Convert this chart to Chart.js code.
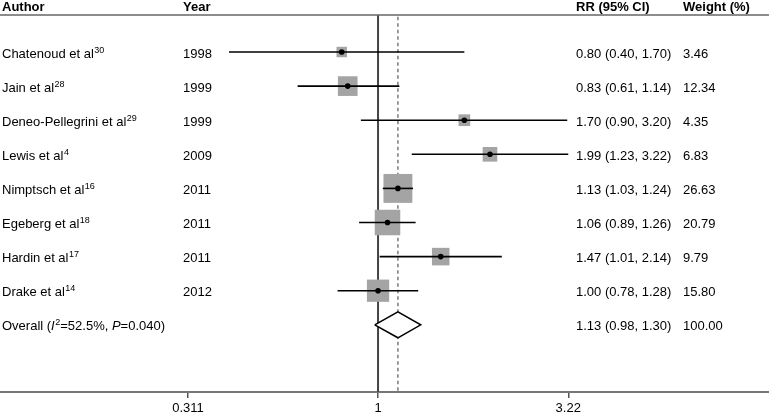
<!DOCTYPE html>
<html>
<head>
<meta charset="utf-8">
<script src="https://cdn.jsdelivr.net/npm/chart.js@4.4.0/dist/chart.umd.min.js"></script>
<style>
  html, body { margin: 0; padding: 0; background: #fff; }
</style>
</head>
<body>
<canvas id="forest" width="769" height="417"></canvas>
<script>
// study rows
var authors = ['Chatenoud et al', 'Jain et al', 'Deneo-Pellegrini et al', 'Lewis et al',
               'Nimptsch et al', 'Egeberg et al', 'Hardin et al', 'Drake et al'];
var refs    = ['30', '28', '29', '4', '16', '18', '17', '14'];
var years   = ['1998', '1999', '1999', '2009', '2011', '2011', '2011', '2012'];
var rr      = [0.80, 0.83, 1.70, 1.99, 1.13, 1.06, 1.47, 1.00];
var lo      = [0.40, 0.61, 0.90, 1.23, 1.03, 0.89, 1.01, 0.78];
var hi      = [1.70, 1.14, 3.20, 3.22, 1.24, 1.26, 2.14, 1.28];
var weights = [3.46, 12.34, 4.35, 6.83, 26.63, 20.79, 9.79, 15.80];

// pooled estimate
var overallRR = 1.13, overallLo = 0.98, overallHi = 1.30, overallW = 100.00;

var xTicks = [0.311, 1, 3.22];
var headers = ['Author', 'Year', 'RR (95% CI)', 'Weight (%)'];

var overallRow = authors.length;
var yMin = -1.525, yMax = 9.97;
var headerLine = -1.085, headerText = -1.29;

Chart.defaults.font.family = "'Liberation Sans', Arial, sans-serif";
Chart.defaults.font.size = 13;
Chart.defaults.color = '#000';

var datasets = [];

// reference lines (null effect and pooled)
datasets.push({
  data: [{x: 1, y: headerLine}, {x: 1, y: yMax}],
  showLine: true, pointRadius: 0, borderColor: '#444', borderWidth: 2, order: 6
});
datasets.push({
  data: [{x: overallRR, y: headerLine + 0.05}, {x: overallRR, y: yMax}],
  showLine: true, pointRadius: 0, borderColor: '#7a7a7a', borderWidth: 1.5,
  borderDash: [3.5, 3], order: 5
});

// weight boxes
datasets.push({
  data: rr.map(function(v, i) { return {x: v, y: i}; }),
  pointStyle: 'rect',
  pointRadius: function(c) { return 5.6 * Math.sqrt(weights[c.dataIndex]) / Math.SQRT2; },
  backgroundColor: '#a4a4a4', borderWidth: 0, order: 4
});

// confidence intervals
for (var i = 0; i < authors.length; i++) {
  datasets.push({
    data: [{x: lo[i], y: i}, {x: hi[i], y: i}],
    showLine: true, pointRadius: 0, borderColor: '#000', borderWidth: 1.6, order: 3
  });
}

// diamond
datasets.push({
  data: [{x: overallLo, y: overallRow}, {x: overallRR, y: overallRow - 0.38},
         {x: overallHi, y: overallRow}, {x: overallRR, y: overallRow + 0.38},
         {x: overallLo, y: overallRow}],
  showLine: true, pointRadius: 0, borderColor: '#000', borderWidth: 1.5,
  backgroundColor: '#fff', fill: 'shape', order: 2
});

// point estimates
datasets.push({
  data: rr.map(function(v, i) { return {x: v, y: i}; }),
  pointRadius: 2.8, backgroundColor: '#000', borderWidth: 0, order: 1
});

function drawSup(ctx, x, y, base, sup, italic) {
  ctx.font = (italic ? 'italic ' : '') + '13px "Liberation Sans", Arial, sans-serif';
  ctx.fillText(base, x, y);
  x += ctx.measureText(base).width;
  if (sup) {
    ctx.font = '9px "Liberation Sans", Arial, sans-serif';
    ctx.fillText(sup, x + 0.5, y - 5);
    x += ctx.measureText(sup).width + 0.5;
  }
  return x;
}

var tablePlugin = {
  id: 'table',
  afterDraw: function(chart) {
    var ctx = chart.ctx, ys = chart.scales.y, area = chart.chartArea;
    var cols = [2, 183, 576, 683];
    ctx.save();
    ctx.fillStyle = '#000';
    ctx.textBaseline = 'alphabetic';

    // header
    ctx.font = 'bold 13px "Liberation Sans", Arial, sans-serif';
    var hy = ys.getPixelForValue(headerText) + 2.5;
    headers.forEach(function(h, k) { ctx.fillText(h, cols[k], hy); });
    ctx.strokeStyle = '#666';
    ctx.lineWidth = 1.5;
    ctx.beginPath();
    var ly = ys.getPixelForValue(headerLine);
    ctx.moveTo(area.left, ly);
    ctx.lineTo(area.right, ly);
    ctx.stroke();

    // rows
    for (var i = 0; i < authors.length; i++) {
      var y = ys.getPixelForValue(i) + 5.5;
      drawSup(ctx, cols[0], y, authors[i], refs[i]);
      ctx.font = '13px "Liberation Sans", Arial, sans-serif';
      ctx.fillText(years[i], cols[1], y);
      ctx.fillText(rr[i].toFixed(2) + ' (' + lo[i].toFixed(2) + ', ' + hi[i].toFixed(2) + ')', cols[2], y);
      ctx.fillText(weights[i].toFixed(2), cols[3], y);
    }

    // overall
    var oy = ys.getPixelForValue(overallRow) + 5.5;
    var x = drawSup(ctx, cols[0], oy, 'Overall (', null);
    x = drawSup(ctx, x, oy, 'I', '2', true);
    x = drawSup(ctx, x, oy, '=52.5%, ', null);
    x = drawSup(ctx, x, oy, 'P', null, true);
    drawSup(ctx, x, oy, '=0.040)', null);
    ctx.font = '13px "Liberation Sans", Arial, sans-serif';
    ctx.fillText(overallRR.toFixed(2) + ' (' + overallLo.toFixed(2) + ', ' + overallHi.toFixed(2) + ')', cols[2], oy);
    ctx.fillText(overallW.toFixed(2), cols[3], oy);
    ctx.restore();
  }
};

new Chart(document.getElementById('forest'), {
  type: 'scatter',
  data: { datasets: datasets },
  plugins: [tablePlugin],
  options: {
    responsive: false,
    animation: false,
    events: [],
    layout: { padding: 0, autoPadding: false },
    plugins: { legend: { display: false }, tooltip: { enabled: false } },
    scales: {
      x: {
        type: 'logarithmic',
        min: 0.0979,
        max: 11.06,
        afterBuildTicks: function(s) { s.ticks = xTicks.map(function(v) { return {value: v}; }); },
        afterFit: function(s) { s.height = 25; },
        ticks: {
          autoSkip: false, maxRotation: 0, padding: 3, color: '#000',
          callback: function(v) { return String(v); }
        },
        grid: { drawOnChartArea: false, drawTicks: true, tickLength: 6, color: '#555', lineWidth: 1.5 },
        border: { display: true, color: '#777', width: 2 }
      },
      y: { type: 'linear', reverse: true, min: yMin, max: yMax, display: false }
    }
  }
});
</script>
</body>
</html>
